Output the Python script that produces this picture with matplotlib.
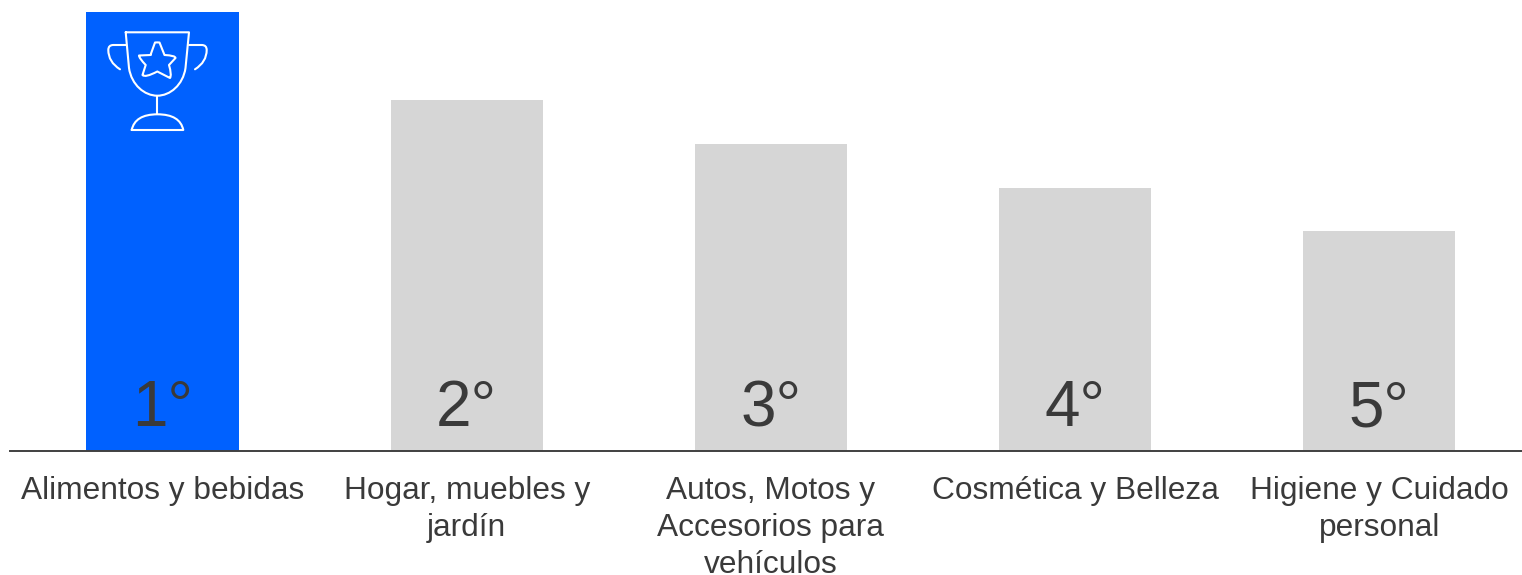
import matplotlib
matplotlib.use('Agg')
import matplotlib.pyplot as plt
from matplotlib.path import Path
from matplotlib.patches import PathPatch
from matplotlib.transforms import Affine2D

plt.rcParams['font.family'] = ['Liberation Sans', 'DejaVu Sans']

categories = ['Alimentos y bebidas', 'Hogar, muebles y\njardín', 'Autos, Motos y\nAccesorios para\nvehículos',
              'Cosmética y Belleza', 'Higiene y Cuidado\npersonal']
values = [10, 8, 7, 6, 5]
ranks = ['1°', '2°', '3°', '4°', '5°']
bar_colors = ['#0061FF', '#D6D6D6', '#D6D6D6', '#D6D6D6', '#D6D6D6']

W, H = 1522, 575
BASE = 450.5
text_color = '#3A3A3A'

fig = plt.figure(figsize=(W / 100, H / 100), dpi=100)
ax = fig.add_axes([10 / W, (H - BASE) / H, (W - 10) / W, BASE / H])

ax.bar(range(len(values)), values, width=0.5, color=bar_colors)
ax.set_xlim(-0.5013, 4.469)
ax.set_ylim(0, 10.285)

for i, r in enumerate(ranks):
    ax.annotate(r, (i, 0), xytext=(0, 24 * 0.72), textcoords='offset points', ha='center', va='baseline',
                fontsize=46, color=text_color)

ax.set_xticks(range(len(categories)))
ax.set_xticklabels(categories, fontsize=22.8, color=text_color, linespacing=1.3)
ax.tick_params(axis='x', length=0, pad=18.7)
ax.set_yticks([])
for s in ['top', 'left', 'right']:
    ax.spines[s].set_visible(False)
ax.spines['bottom'].set_color('#404040')
ax.spines['bottom'].set_linewidth(1.4)

# trophy icon, drawn in pixels from the top left corner
to_px = Affine2D().scale(1, -1).translate(0, H)


def icon(verts, codes):
    p = PathPatch(Path(verts, codes), fill=False, edgecolor='white', linewidth=1.5, joinstyle='round',
                  capstyle='round', transform=to_px, clip_on=False)
    fig.add_artist(p)


M, L, C, C4 = Path.MOVETO, Path.LINETO, Path.CURVE3, Path.CURVE4
# cup
icon([(125.7, 32.3), (189, 32.3), (185.5, 68), (183, 85), (170, 95.7), (157.3, 95.7), (144.6, 95.7), (131.5, 85),
      (129, 68), (125.7, 32.3)],
     [M, L, L, C4, C4, C4, C4, C4, C4, L])
# stem and base
icon([(157.3, 95.7), (157.3, 114.3)], [M, L])
icon([(131.7, 130), (183.3, 130), (180, 114.3), (157.5, 114.3), (135, 114.3), (131.7, 130)],
     [M, L, C, C, C, C])
# handles
icon([(125.7, 45), (113.3, 45), (108.3, 45), (108.3, 50), (108.3, 62), (120, 69.3)], [M, L, C, C, C, C])
icon([(189, 45), (201.7, 45), (206.7, 45), (206.7, 50), (206.7, 62), (195, 69.3)], [M, L, C, C, C, C])
# star
icon([(150.5, 55), (155, 42.5), (157.3, 42.3), (159.5, 42.5), (164.5, 55), (175.5, 55.5), (175.5, 58), (169, 65),
      (172, 75), (170, 78), (157.3, 71.5), (145, 78), (142.5, 75), (145.7, 65), (139, 58), (139, 55.5), (150.5, 55)],
     [M, L, C, C, L, C, C, L, C, C, L, C, C, L, C, C, L])

fig.savefig('out.png', dpi=100)
